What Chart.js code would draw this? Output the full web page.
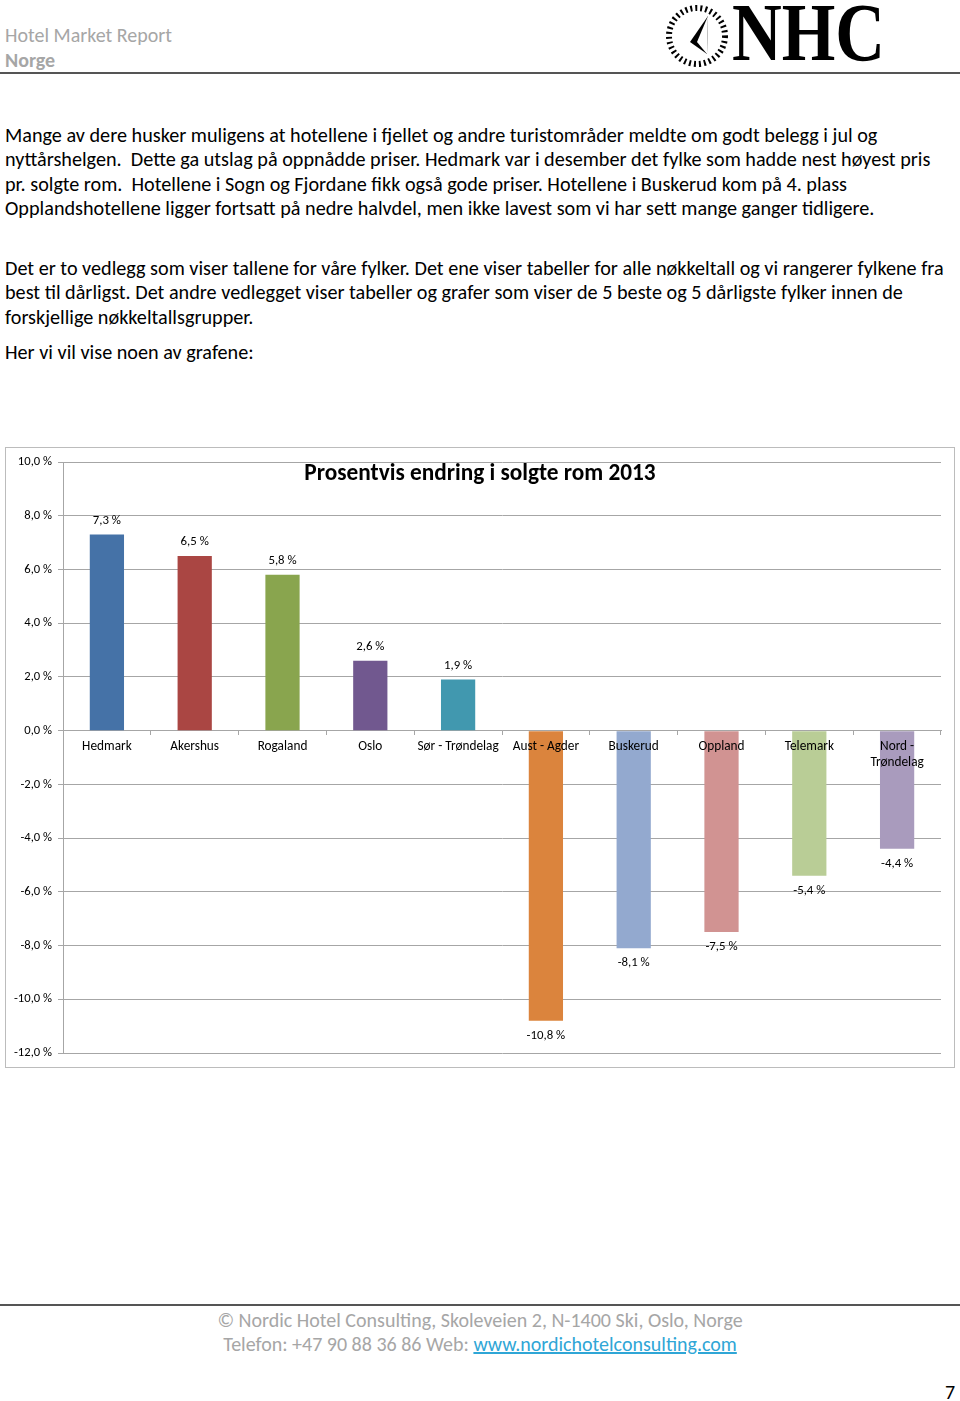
<!DOCTYPE html>
<html>
<head>
<meta charset="utf-8">
<script src="https://cdn.jsdelivr.net/npm/chart.js@4"></script>
<style>
body { margin: 0; width: 960px; height: 1401px; position: relative; background: #fff;
       font-family: Carlito, Lato, "Liberation Sans", sans-serif; }
.abs { position: absolute; white-space: pre; }
.hdr { color: #a6a6a6; font-size: 20px; left: 5px; }
.txt { font-size: 20.2px; color: #000; left: 5px; line-height: 22px; }
.rule { position: absolute; left: 0; width: 960px; height: 2px; background: #555; }
.foot { color: #a6a6a6; font-size: 20px; width: 960px; left: 0; text-align: center; line-height: 22px; }
.foot a { color: #2fa6d6; text-decoration: underline; }
#chartBox { position: absolute; left: 5px; top: 447px; width: 948px; height: 619px; border: 1px solid #bcbcbc; }
</style>
</head>
<body>

<!-- header -->
<div class="abs hdr" style="top:23px">Hotel Market Report</div>
<div class="abs hdr" style="top:48px; font-weight:bold">Norge</div>
<svg class="abs" style="left:664px; top:2px" width="68" height="68" viewBox="0 0 68 68">
  <circle cx="33" cy="34" r="28" fill="none" stroke="#000" stroke-width="6" stroke-dasharray="2 3"/>
  <polygon points="44,14 26,40 43,52" fill="#000"/>
  <polygon points="44,14 33,40 43,52" fill="#fff"/>
</svg>
<div class="abs" style="left:732px; top:-14px; font-family:'Liberation Serif', serif; font-weight:bold; font-size:82px; transform:scaleX(0.84); transform-origin:left top">NHC</div>
<div class="rule" style="top:72px"></div>

<!-- body text -->
<div class="abs txt" style="top:124px">Mange av dere husker muligens at hotellene i fjellet og andre turistområder meldte om godt belegg i jul og</div>
<div class="abs txt" style="top:148px">nyttårshelgen.  Dette ga utslag på oppnådde priser. Hedmark var i desember det fylke som hadde nest høyest pris</div>
<div class="abs txt" style="top:173px">pr. solgte rom.  Hotellene i Sogn og Fjordane fikk også gode priser. Hotellene i Buskerud kom på 4. plass</div>
<div class="abs txt" style="top:197px">Opplandshotellene ligger fortsatt på nedre halvdel, men ikke lavest som vi har sett mange ganger tidligere.</div>
<div class="abs txt" style="top:257px">Det er to vedlegg som viser tallene for våre fylker. Det ene viser tabeller for alle nøkkeltall og vi rangerer fylkene fra</div>
<div class="abs txt" style="top:281px">best til dårligst. Det andre vedlegget viser tabeller og grafer som viser de 5 beste og 5 dårligste fylker innen de</div>
<div class="abs txt" style="top:306px">forskjellige nøkkeltallsgrupper.</div>
<div class="abs txt" style="top:341px">Her vi vil vise noen av grafene:</div>

<div id="chartBox"><canvas id="chart" width="948" height="619"></canvas></div>

<!-- footer -->
<div class="rule" style="top:1304px"></div>
<div class="abs foot" style="top:1309px">© Nordic Hotel Consulting, Skoleveien 2, N-1400 Ski, Oslo, Norge</div>
<div class="abs foot" style="top:1333px">Telefon: +47 90 88 36 86 Web: <a>www.nordichotelconsulting.com</a></div>
<div class="abs" style="left:945px; top:1380px; font-size:20px">7</div>

<script>
const categories = ['Hedmark', 'Akershus', 'Rogaland', 'Oslo', 'Sør - Trøndelag', 'Aust - Agder',
                    'Buskerud', 'Oppland', 'Telemark', ['Nord -', 'Trøndelag']]
const changePct = [7.3, 6.5, 5.8, 2.6, 1.9, -10.8, -8.1, -7.5, -5.4, -4.4]
const barColors = ['#4572A7', '#AA4643', '#89A54E', '#71588F', '#4198AF',
                   '#DB843D', '#93A9CF', '#D19392', '#B9CD96', '#A99BBD']
const yMin = -12
const yMax = 10
const yStep = 2
const chartTitle = 'Prosentvis endring i solgte rom 2013'

const fmtPct = (v) => v.toFixed(1).replace('.', ',') + ' %'
const gridGrey = '#a6a6a6'
const fontFamily = 'Carlito, Lato, sans-serif'

Chart.defaults.font.family = fontFamily
Chart.defaults.color = '#000'

// title drawn over the plot, like the Excel chart
const titleOverlay = {
    id: 'titleOverlay',
    afterDraw(chart) {
        const ctx = chart.ctx
        ctx.save()
        ctx.font = 'bold 23.3px ' + fontFamily
        ctx.fillStyle = '#000'
        ctx.textAlign = 'center'
        ctx.textBaseline = 'middle'
        ctx.fillText(chartTitle, chart.width / 2, 26)
        ctx.restore()
    }
}

// value labels above / below each bar
const valueLabels = {
    id: 'valueLabels',
    afterDatasetsDraw(chart) {
        const ctx = chart.ctx
        const meta = chart.getDatasetMeta(0)
        ctx.save()
        ctx.font = '12.8px ' + fontFamily
        ctx.fillStyle = '#000'
        ctx.textAlign = 'center'
        ctx.textBaseline = 'middle'
        meta.data.forEach((bar, i) => {
            const v = changePct[i]
            const y = v >= 0 ? bar.y - 14 : bar.y + 15
            ctx.fillText(fmtPct(v), bar.x, y)
        })
        ctx.restore()
    }
}

new Chart(document.getElementById('chart'), {
    type: 'bar',
    data: {
        labels: categories,
        datasets: [{
            data: changePct,
            backgroundColor: barColors,
            borderWidth: 0,
            barPercentage: 0.39,
            categoryPercentage: 1
        }]
    },
    options: {
        responsive: false,
        animation: false,
        layout: { padding: { top: 14, right: 13, bottom: 14, left: 0 } },
        scales: {
            x: {
                position: { y: 0 },
                grid: { offset: true, drawOnChartArea: false, drawTicks: true, tickLength: 4, color: gridGrey },
                border: { color: gridGrey },
                ticks: { z: 1, font: { size: 13.3 }, padding: 4, maxRotation: 0, autoSkip: false }
            },
            y: {
                min: yMin,
                max: yMax,
                grid: { color: gridGrey, tickLength: 5 },
                border: { color: gridGrey },
                ticks: { stepSize: yStep, font: { size: 12.6 }, padding: 6, callback: (v) => fmtPct(v) },
                afterFit: (scale) => { scale.width = 57 }
            }
        },
        plugins: {
            legend: { display: false },
            tooltip: { enabled: false }
        }
    },
    plugins: [titleOverlay, valueLabels]
})
</script>
</body>
</html>
